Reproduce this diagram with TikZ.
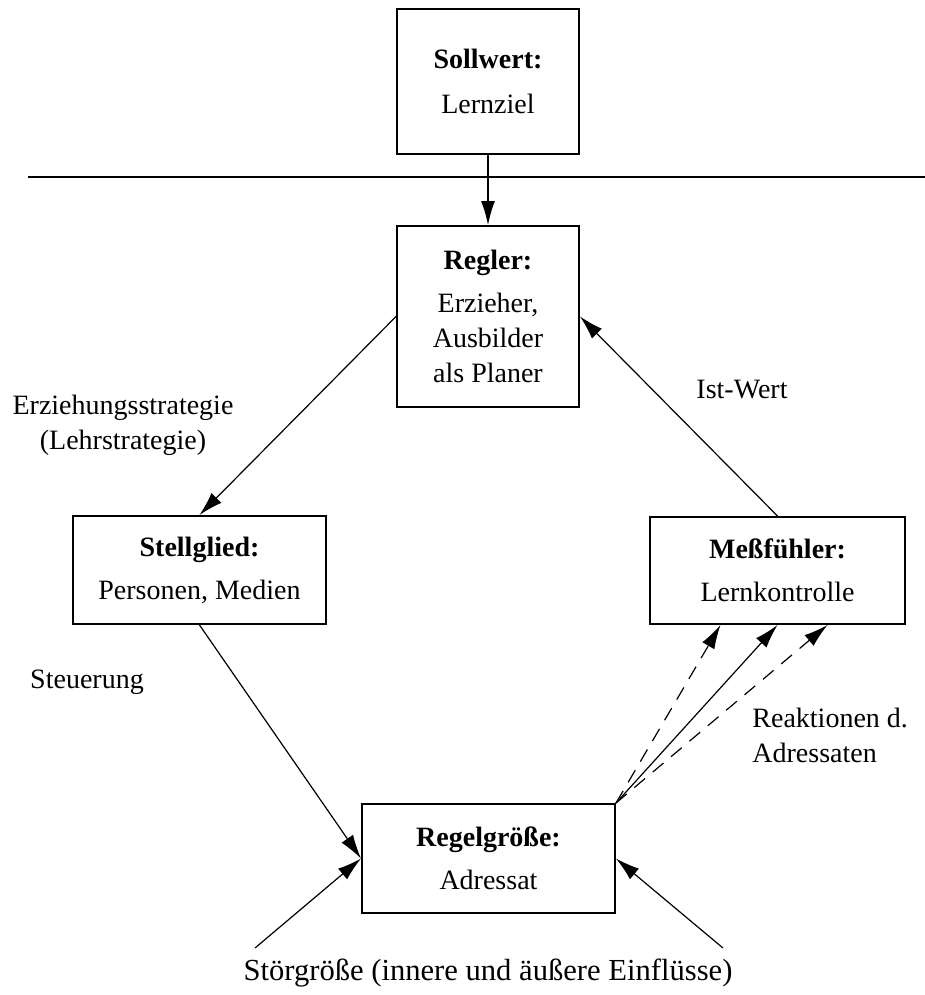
\documentclass[tikz,border=0pt]{standalone}
\usepackage{fontspec}
\setmainfont{Liberation Serif}
\usetikzlibrary{arrows.meta}

\begin{document}
\begin{tikzpicture}[x=0.5pt,y=-0.5pt,font=\fontsize{14pt}{17.5pt}\selectfont]
    \useasboundingbox (0,0) rectangle (925,995);

    \begin{scope}[every node/.style={draw=black,line width=1pt,align=center,inner sep=0pt}]
      \node[minimum width=91pt,minimum height=72.5pt] (soll) at (488,81.5)
        {\textbf{Sollwert:}\\[5pt] Lernziel};
      \node[minimum width=91pt,minimum height=90.5pt] (regler) at (488,316.5)
        {\textbf{Regler:}\\[4pt] Erzieher,\\ Ausbilder\\ als Planer};
      \node[minimum width=126.5pt,minimum height=54pt] (stell) at (199.5,570)
        {\textbf{Stellglied:}\\[4pt] Personen, Medien};
      \node[minimum width=127.5pt,minimum height=53.5pt] (mess) at (777.5,570.5)
        {\textbf{Meßfühler:}\\[4pt] Lernkontrolle};
      \node[minimum width=126.5pt,minimum height=54.5pt] (regel) at (488.5,858.5)
        {\textbf{Regelgröße:}\\[4pt] Adressat};
    \end{scope}

    \draw[line width=1pt] (28,177) -- (925,177);

    \node[align=center] (strat) at (123,425) {Erziehungsstrategie\\ (Lehrstrategie)};
    \node (ist) at (742,390) {Ist-Wert};
    \node (steu) at (87,682) {Steuerung};
    \node[align=left,anchor=west,inner sep=0pt] (reak) at (752,735) {Reaktionen d.\\ Adressaten};
    \node[font=\fontsize{15.3pt}{18pt}\selectfont] (stoer) at (488,973) {Störgröße (innere und äußere Einflüsse)};

    \coordinate (s1) at (255,948);
    \coordinate (s2) at (723,948);

    \begin{scope}[>={Latex[length=12pt,width=7pt]},
        every edge/.style={draw=black,line width=0.6pt}]
      \path [->] (soll) edge (regler);
      \path [->] (regler.west) edge (stell.north);
      \path [->] (mess.north) edge (regler.east);
      \path [->] (stell.south) edge (regel.west);
      \path [->] (regel.north east) edge (mess.south);
      \path [->,dash pattern=on 7pt off 5pt] (regel.north east) edge ([xshift=-28.5pt]mess.south);
      \path [->,dash pattern=on 7pt off 5pt] (regel.north east) edge ([xshift=25pt]mess.south);
      \path [->] (s1) edge (regel.west);
      \path [->] (s2) edge (regel.east);
    \end{scope}
\end{tikzpicture}
\end{document}
